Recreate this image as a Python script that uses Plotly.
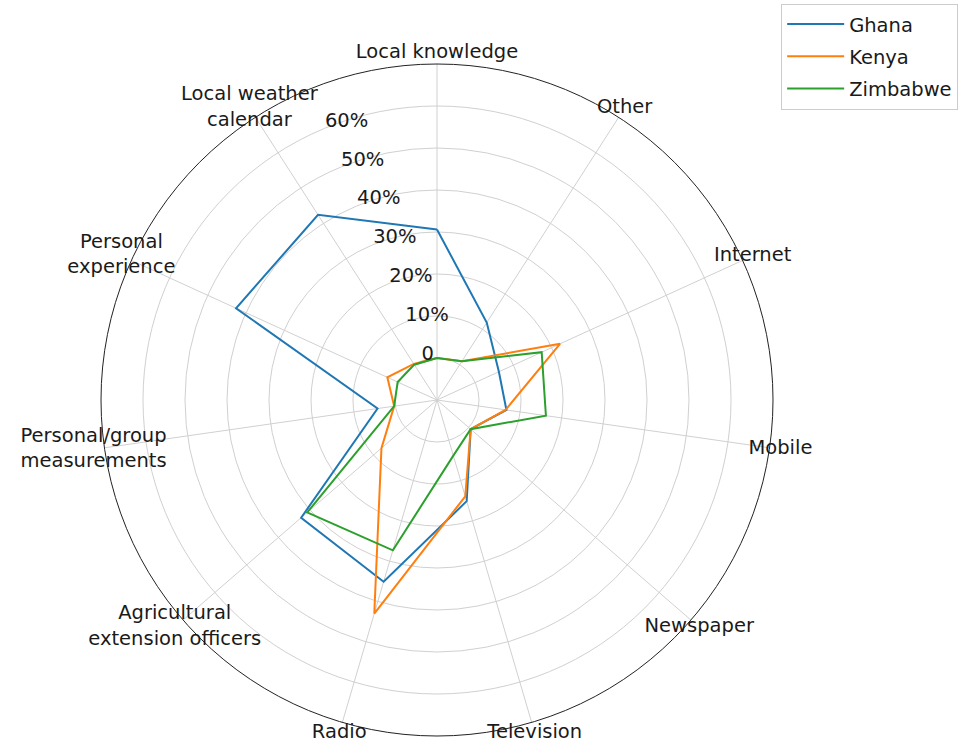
import plotly.graph_objects as go

categories = [
    "Local knowledge", "Other", "Internet", "Mobile", "Newspaper", "Television",
    "Radio", "Agricultural extension officers", "Personal/group measurements",
    "Personal experience", "Local weather calendar",
]
category_labels = [
    "Local knowledge", "Other", "Internet", "Mobile", "Newspaper", "Television",
    "Radio", "Agricultural<br>extension officers", "Personal/group<br>measurements",
    "Personal<br>experience", "Local weather<br>calendar",
]
ghana = [30.6, 11.9, 6.2, 6.7, 0.6, 15.1, 35.1, 32.8, 4.3, 42.6, 42.4]
kenya = [0.0, 1.0, 22.2, 6.5, 0.6, 13.9, 43.0, 7.5, 0.3, 3.0, 0.2]
zimbabwe = [0.0, 1.0, 17.4, 16.2, 0.6, 3.8, 27.3, 30.9, 0.3, 0.3, 0.0]
radial_tickvals = [0, 10, 20, 30, 40, 50, 60]
radial_ticktext = ["0", "10%", "20%", "30%", "40%", "50%", "60%"]
radial_range = [-10, 70]

series = [("Ghana", ghana, "#1f77b4"), ("Kenya", kenya, "#ff7f0e"), ("Zimbabwe", zimbabwe, "#2ca02c")]

FONT = "DejaVu Sans"
TXT = "#1a1a1a"
FS = 19.5
GRID = "#d0d0d0"

fig = go.Figure()
for i, (name, vals, col) in enumerate(series):
    fig.add_trace(go.Scatterpolar(
        r=vals + vals[:1], theta=categories + categories[:1], mode="lines",
        name=name, line=dict(color=col, width=2), legendgroup=str(i), subplot="polar",
    ))

# category labels live on an invisible, slightly larger polar frame sharing the centre
fig.add_trace(go.Scatterpolar(
    r=[1] * len(categories), theta=categories, mode="text", text=category_labels,
    textposition="middle center", textfont=dict(family=FONT, size=FS, color=TXT),
    cliponaxis=False, showlegend=False, hoverinfo="skip", subplot="polar2",
))
# invisible frame carrying only the radial tick labels (nudged like matplotlib's label placement)
fig.add_trace(go.Scatterpolar(
    r=[], theta=[], mode="lines", showlegend=False, hoverinfo="skip", subplot="polar3",
))

W, H = 962, 747
cx, cy, R = 437, 400, 336
R2 = 347
dx3, dy3 = -9, -7.5


def dom(cxp, cyp, rad):
    return dict(x=[(cxp - rad) / W, (cxp + rad) / W],
                y=[max(0, (H - cyp - rad) / H), min(1, (H - cyp + rad) / H)])


hidden_ang = dict(type="category", categoryarray=categories, direction="clockwise", rotation=90,
                  showticklabels=False, ticks="", showgrid=False, showline=False)

fig.update_layout(
    width=W, height=H, margin=dict(l=0, r=0, t=0, b=0),
    paper_bgcolor="white", plot_bgcolor="white",
    font=dict(family=FONT, size=FS, color=TXT),
    polar=dict(
        domain=dom(cx, cy, R),
        bgcolor="white",
        angularaxis=dict(
            type="category", categoryarray=categories, direction="clockwise", rotation=90,
            showticklabels=False, ticks="", gridcolor=GRID, gridwidth=1,
            showline=True, linecolor="#222222", linewidth=1,
        ),
        radialaxis=dict(
            range=radial_range, tickvals=radial_tickvals, showticklabels=False,
            angle=112.5, showline=False, ticks="", gridcolor=GRID, gridwidth=1,
        ),
    ),
    polar2=dict(
        domain=dom(cx, cy, R2),
        bgcolor="rgba(0,0,0,0)",
        angularaxis=hidden_ang,
        radialaxis=dict(range=[0, 1], visible=False, showgrid=False),
    ),
    polar3=dict(
        domain=dom(cx + dx3, cy + dy3, R),
        bgcolor="rgba(0,0,0,0)",
        angularaxis=hidden_ang,
        radialaxis=dict(
            range=radial_range, tickvals=radial_tickvals, ticktext=radial_ticktext,
            angle=112.5, tickangle=112.5, showline=False, ticks="", showgrid=False,
            tickfont=dict(family=FONT, size=FS, color=TXT),
        ),
    ),
    legend=dict(
        x=0.996, xanchor="right", y=0.995, yanchor="top",
        bgcolor="white", bordercolor="#cccccc", borderwidth=1, itemwidth=57,
        font=dict(family=FONT, size=FS, color=TXT), tracegroupgap=4,
    ),
)

fig.write_html("out.html")
